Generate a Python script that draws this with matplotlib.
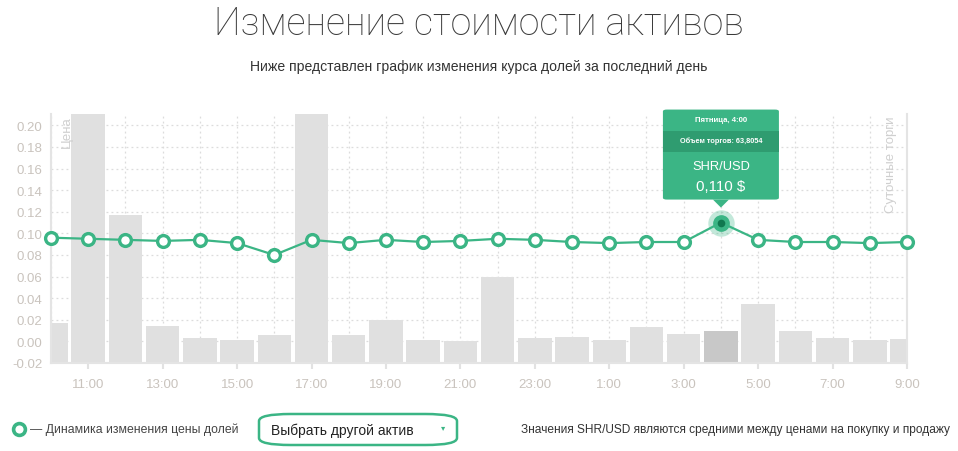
import matplotlib.pyplot as plt
from matplotlib.patches import FancyBboxPatch, Polygon

# Data
hours = ["10:00", "11:00", "12:00", "13:00", "14:00", "15:00", "16:00", "17:00",
         "18:00", "19:00", "20:00", "21:00", "22:00", "23:00", "0:00", "1:00",
         "2:00", "3:00", "4:00", "5:00", "6:00", "7:00", "8:00", "9:00"]
price = [0.096, 0.095, 0.094, 0.093, 0.094, 0.091, 0.080, 0.094,
         0.091, 0.094, 0.092, 0.093, 0.095, 0.094, 0.092, 0.091,
         0.092, 0.092, 0.110, 0.094, 0.092, 0.092, 0.091, 0.092]
volume = [0.0168, 0.25, 0.1173, 0.0145, 0.0034, 0.0013, 0.0059, 0.25,
          0.0059, 0.0201, 0.0013, 0.0001, 0.0596, 0.0031, 0.0041, 0.0010,
          0.0136, 0.0071, 0.0096, 0.0343, 0.0093, 0.0029, 0.0010, 0.0025]
active = 18
tip_day = "Пятница, 4:00"
tip_volume = "Объем торгов: 63,8054"
pair = "SHR/USD"

W, H = 958, 452
green = "#3bb585"
dark_green = "#2f9c70"
tick_col = "#c9c3bd"

plt.rcParams["font.family"] = ["Liberation Sans", "DejaVu Sans"]

fig = plt.figure(figsize=(W / 100, H / 100), dpi=100)


def fx(px):
    return px / W


def fy(py):
    return 1 - py / H


ax = fig.add_axes([fx(51), fy(364), fx(907) - fx(51), fy(115) - fy(364)])
x = list(range(len(hours)))

bar_colors = ["#c8c8c8" if i == active else "#e0e0e0" for i in x]
ax.bar(x, [v + 0.02 for v in volume], bottom=-0.02, width=0.9, color=bar_colors, zorder=1)

ax.plot(x, price, color=green, lw=1.6, zorder=3)
ax.plot(x, price, ls="none", marker="o", ms=8.5, mfc="white", mec=green, mew=2.4,
        zorder=4, clip_on=False)
# highlighted point
ax.plot(x[active], price[active], marker="o", ms=19, mfc=green, mec="none", alpha=0.3, zorder=5)
ax.plot(x[active], price[active], marker="o", ms=11, mfc=green, mec=green, zorder=6)
ax.plot(x[active], price[active], marker="o", ms=5.5, mfc="#10784f", mec="none", zorder=7)

ax.set_xlim(0, len(hours) - 1)
ax.set_ylim(-0.02, 0.2105)
ax.set_yticks([i * 0.02 - 0.02 for i in range(12)])
ax.set_yticklabels([f"{i * 0.02 - 0.02:.2f}" for i in range(12)])
ax.set_xticks(x, minor=True)
ax.set_xticks(x[1::2])
ax.set_xticklabels(hours[1::2])
ax.tick_params(axis="both", colors="#e2e2e2", labelcolor=tick_col, labelsize=9.5, length=4, width=1.5)
ax.tick_params(axis="x", which="minor", length=0)
ax.tick_params(axis="x", pad=7)
ax.tick_params(axis="y", pad=6, length=0)
ax.grid(True, which="both", axis="x", color="#dcdcdc", ls=(0, (1.5, 2.5)), lw=0.9, zorder=0)
ax.grid(True, axis="y", color="#dcdcdc", ls=(0, (1.5, 2.5)), lw=0.9, zorder=0)
ax.set_axisbelow(True)
ax.spines["top"].set_visible(False)
for s in ["left", "right", "bottom"]:
    ax.spines[s].set_color("#e4e4e4")
    ax.spines[s].set_linewidth(1.5)

ax.text(0.012, 0.995, "Цена", transform=ax.transAxes, rotation=90, ha="left", va="top",
        color="#cfcfcf", fontsize=9.5)
ax.text(0.988, 0.995, "Суточные торги", transform=ax.transAxes, rotation=90, ha="right", va="top",
        color="#cfcfcf", fontsize=9.5)

# tooltip placed above the active point
fig.canvas.draw()
px_, py_ = ax.transData.transform((x[active], price[active]))
cx = px_
ty = H - py_  # pixel from top
top = ty - 113
bw, bh = 116, 90
box = FancyBboxPatch((fx(cx - bw / 2), fy(top + bh)), fx(bw), bh / H,
                     boxstyle="round,pad=0,rounding_size=0.004", transform=fig.transFigure,
                     fc=green, ec="none", zorder=10)
fig.patches.append(box)
band = FancyBboxPatch((fx(cx - bw / 2), fy(top + 42)), fx(bw), 21 / H,
                      boxstyle="square,pad=0", transform=fig.transFigure,
                      fc=dark_green, ec="none", zorder=11)
fig.patches.append(band)
tri = Polygon([(fx(cx - 8), fy(top + bh)), (fx(cx + 8), fy(top + bh)), (fx(cx), fy(top + bh + 8))],
              closed=True, transform=fig.transFigure, fc=green, ec="none", zorder=10)
fig.patches.append(tri)
fig.text(fx(cx), fy(top + 10), tip_day, ha="center", va="center", color="white",
         fontsize=5.6, fontweight="bold", zorder=12)
fig.text(fx(cx), fy(top + 31), tip_volume, ha="center", va="center", color="white",
         fontsize=5.3, fontweight="bold", zorder=12)
fig.text(fx(cx), fy(top + 56), pair, ha="center", va="center", color="white",
         fontsize=9.3, zorder=12)
fig.text(fx(cx), fy(top + 76), f"{price[active]:.3f} $".replace(".", ","), ha="center",
         va="center", color="white", fontsize=10.8, zorder=12)

# titles
fig.text(0.5, fy(24), "Изменение стоимости активов", ha="center", va="center",
         fontsize=27, color="#3a3a3a", family=["Roboto", "DejaVu Sans"], fontweight="light")
fig.text(0.5, fy(67), "Ниже представлен график изменения курса долей за последний день",
         ha="center", va="center", fontsize=10.1, color="#333333")

# bottom row
fig.lines.append(plt.Line2D([fx(19)], [fy(430)], transform=fig.transFigure, marker="o", ms=8.5,
                            mfc="white", mec=green, mew=2.6))
fig.text(fx(30), fy(430), "— Динамика изменения цены долей", ha="left", va="center",
         fontsize=8.8, color="#444444")
btn = FancyBboxPatch((fx(259), fy(446)), fx(198), 31 / H,
                     boxstyle="round,pad=0,rounding_size=0.033", transform=fig.transFigure,
                     fc="white", ec=green, lw=1.8, mutation_aspect=H / W)
fig.patches.append(btn)
fig.text(fx(271), fy(431), "Выбрать другой актив", ha="left", va="center",
         fontsize=10, color="#222222")
fig.text(fx(443), fy(428), "▾", ha="center", va="center", fontsize=6, color=green,
         family=["DejaVu Sans"])
fig.text(fx(950), fy(430), "Значения SHR/USD являются средними между ценами на покупку и продажу",
         ha="right", va="center", fontsize=8.6, color="#333333")

fig.savefig("out.png", dpi=100)
